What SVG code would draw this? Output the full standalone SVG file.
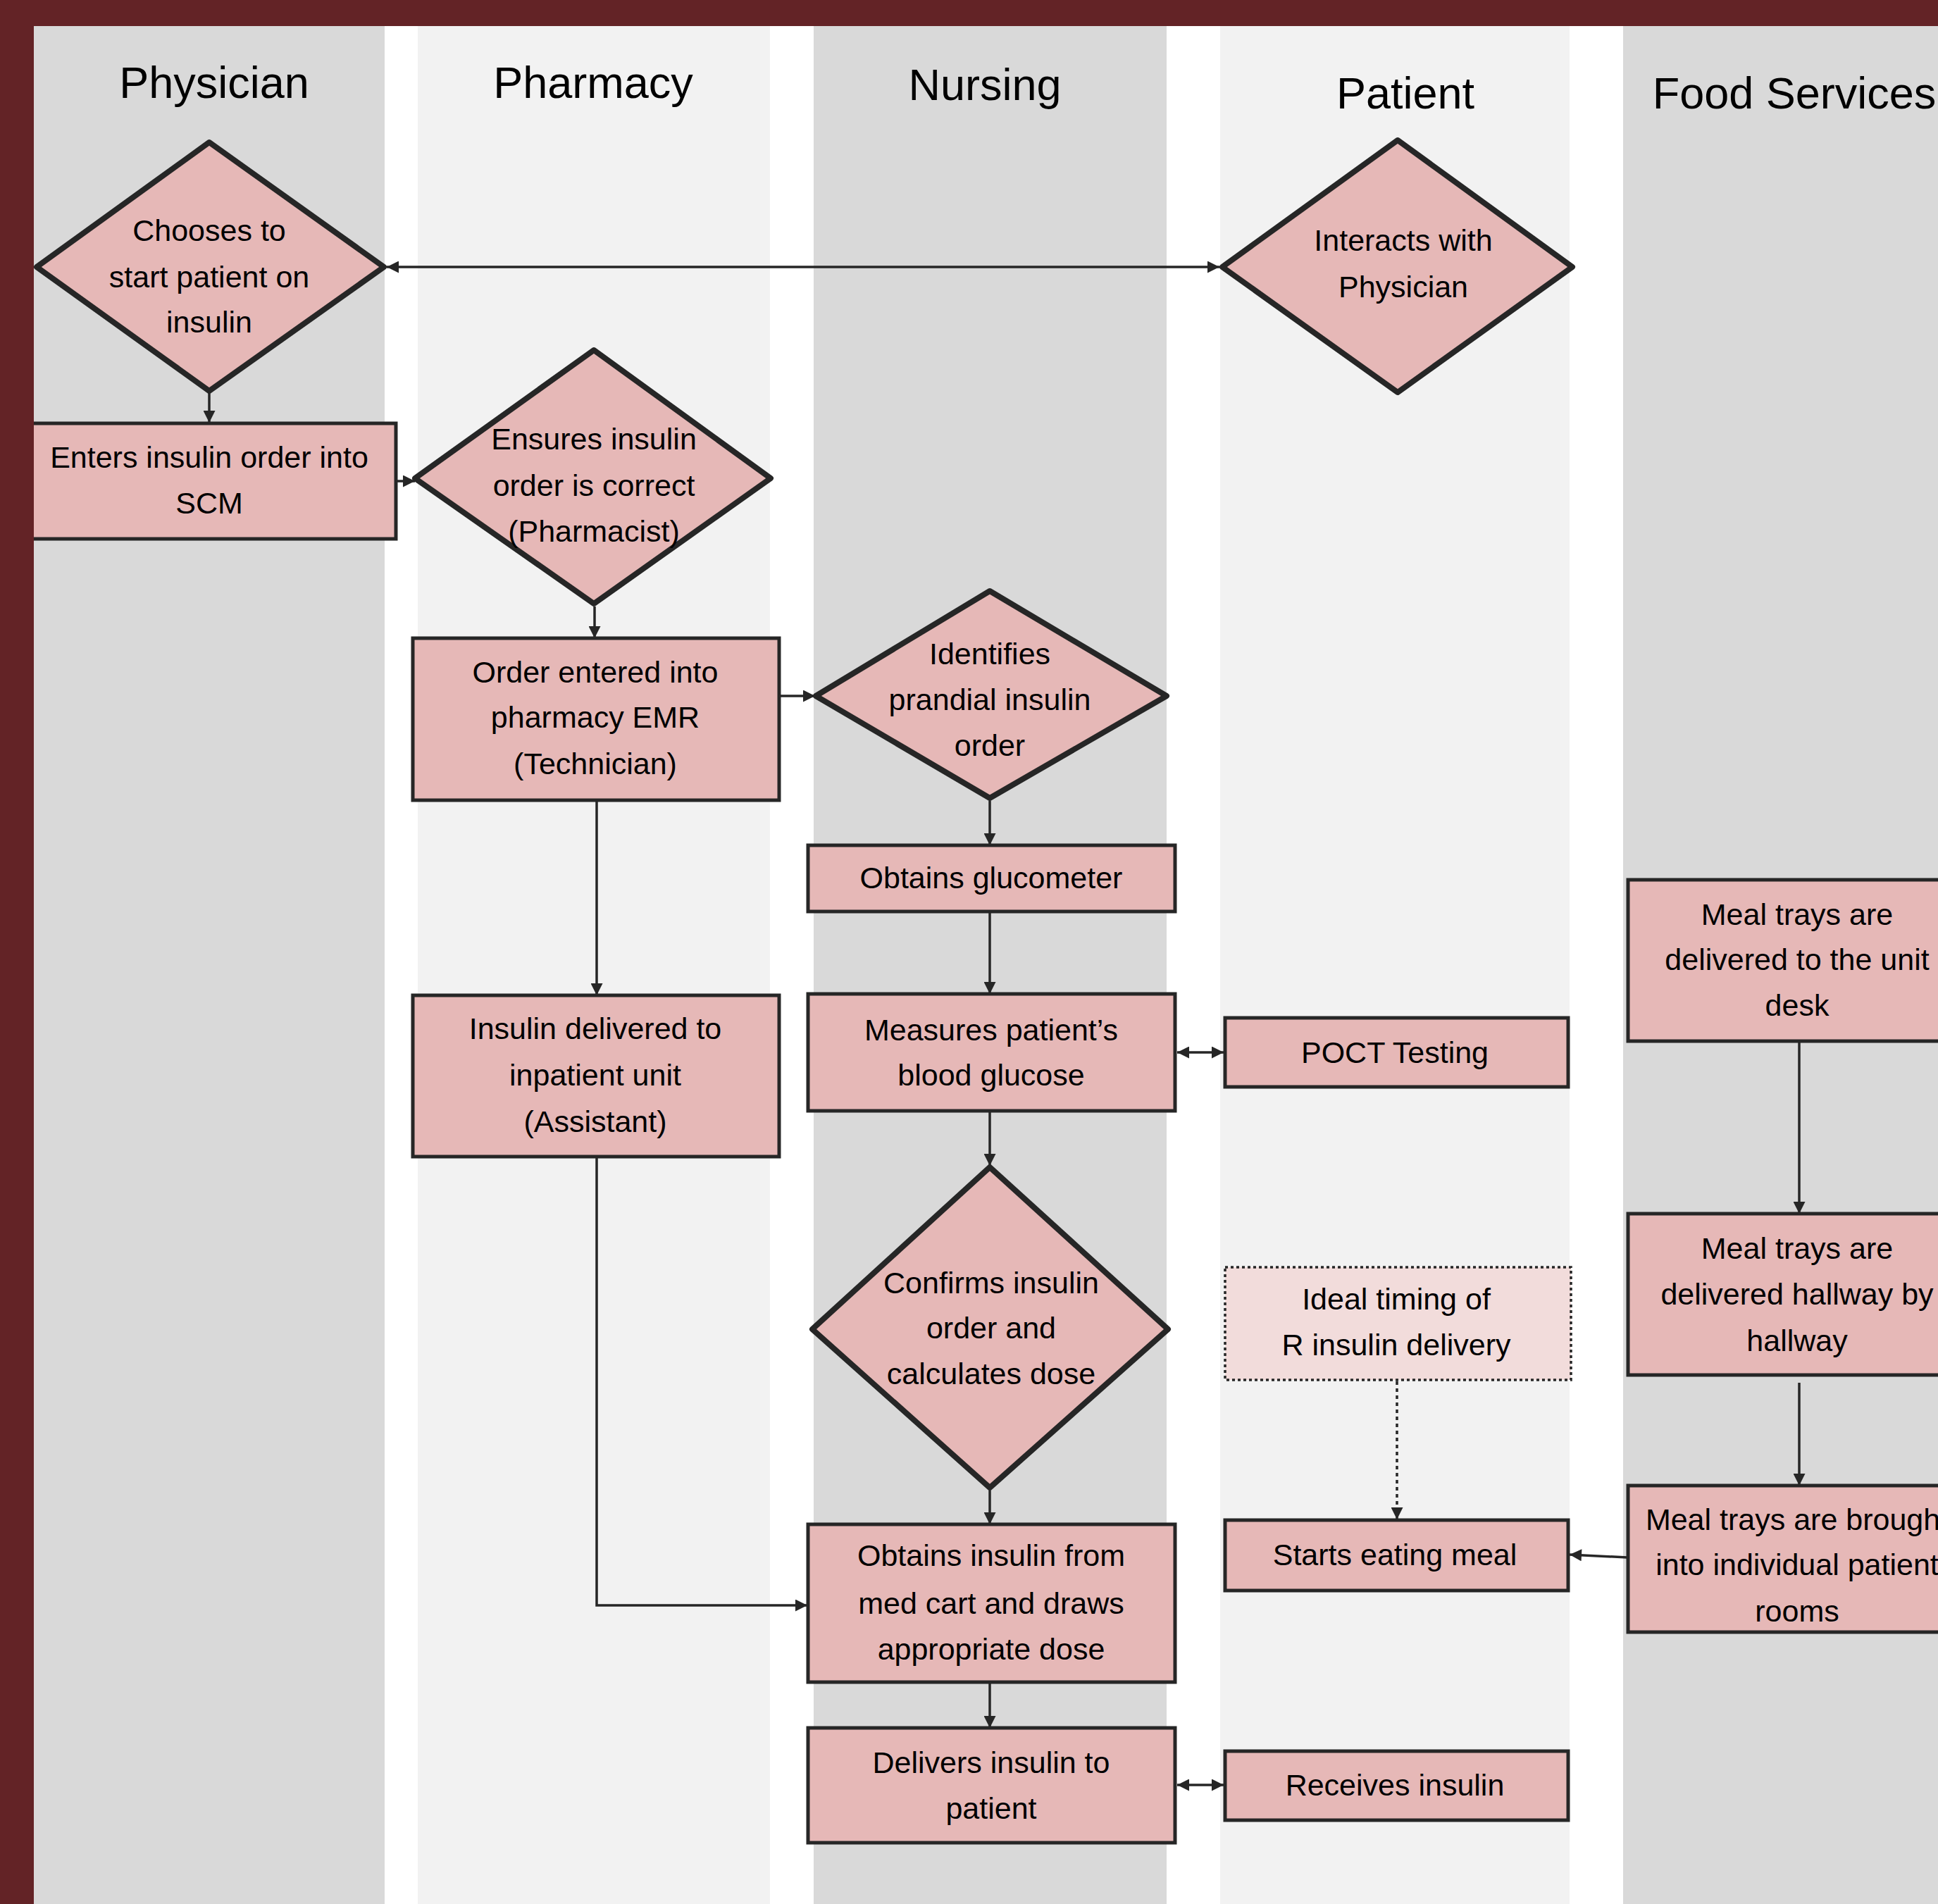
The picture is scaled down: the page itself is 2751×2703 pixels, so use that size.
<svg xmlns="http://www.w3.org/2000/svg" width="2751" height="2703" viewBox="0 0 2751 2703">
<style>
.lane-d{fill:#d9d9d9}
.lane-l{fill:#f2f2f2}
.hdr{font-family:"Liberation Sans",Arial,sans-serif;font-size:63px;fill:#000;text-anchor:middle}
.t{font-family:"Liberation Sans",Arial,sans-serif;font-size:43px;fill:#000;text-anchor:middle}
.box{fill:#e6b8b7;stroke:#262626;stroke-width:5}
.dia{fill:#e6b8b7;stroke:#262626;stroke-width:8;stroke-linejoin:round}
.dot{fill:#f2dcdb;stroke:#262626;stroke-width:3.5;stroke-dasharray:4 4}
.c{fill:none;stroke:#262626;stroke-width:3.5}
</style>
<defs>
<marker id="ah" viewBox="0 0 10 10" refX="10" refY="5" markerWidth="20" markerHeight="17" markerUnits="userSpaceOnUse" orient="auto-start-reverse">
<path d="M0,0 L10,5 L0,10 z" fill="#262626"/>
</marker>
</defs>
<rect x="0" y="0" width="2751" height="2703" fill="#ffffff"/>
<g id="lanes">
<rect class="lane-d" x="48" y="37" width="498" height="2666"/>
<rect class="lane-l" x="593" y="37" width="500" height="2666"/>
<rect class="lane-d" x="1155" y="37" width="501" height="2666"/>
<rect class="lane-l" x="1732" y="37" width="496" height="2666"/>
<rect class="lane-d" x="2304" y="37" width="447" height="2666"/>
</g>
<g id="headers">
<text class="hdr" x="304" y="139">Physician</text>
<text class="hdr" x="842" y="139">Pharmacy</text>
<text class="hdr" x="1398" y="142">Nursing</text>
<text class="hdr" x="1995" y="154">Patient</text>
<text class="hdr" x="2547" y="154">Food Services</text>
</g>
<g id="connectors">
<line class="c" x1="549" y1="379" x2="1731" y2="379" marker-start="url(#ah)" marker-end="url(#ah)"/>
<line class="c" x1="297" y1="558" x2="297" y2="600" marker-end="url(#ah)"/>
<line class="c" x1="562" y1="683" x2="589" y2="683" marker-end="url(#ah)"/>
<line class="c" x1="844" y1="861" x2="844" y2="906" marker-end="url(#ah)"/>
<line class="c" x1="1096" y1="988" x2="1157" y2="988" marker-end="url(#ah)"/>
<line class="c" x1="1405" y1="1137" x2="1405" y2="1200" marker-end="url(#ah)"/>
<line class="c" x1="1405" y1="1294" x2="1405" y2="1411" marker-end="url(#ah)"/>
<line class="c" x1="1671" y1="1494" x2="1737" y2="1494" marker-start="url(#ah)" marker-end="url(#ah)"/>
<line class="c" x1="1405" y1="1577" x2="1405" y2="1655" marker-end="url(#ah)"/>
<line class="c" x1="847" y1="1136" x2="847" y2="1413" marker-end="url(#ah)"/>
<polyline class="c" points="847,1642 847,2279 1146,2279" marker-end="url(#ah)"/>
<line class="c" x1="1405" y1="2116" x2="1405" y2="2164" marker-end="url(#ah)"/>
<line class="c" x1="1405" y1="2388" x2="1405" y2="2453" marker-end="url(#ah)"/>
<line class="c" x1="1671" y1="2534" x2="1737" y2="2534" marker-start="url(#ah)" marker-end="url(#ah)"/>
<line class="c" x1="1983" y1="1961" x2="1983" y2="2157" stroke-dasharray="5 5" marker-end="url(#ah)"/>
<line class="c" x1="2554" y1="1478" x2="2554" y2="1723" marker-end="url(#ah)"/>
<line class="c" x1="2554" y1="1963" x2="2554" y2="2109" marker-end="url(#ah)"/>
<line class="c" x1="2310" y1="2211" x2="2228" y2="2207" stroke-width="5" marker-end="url(#ah)"/>
</g>
<g id="n-chooses">
<polygon class="dia" points="297,202 545,379 297,555 52,379"/>
<text class="t" x="297" y="342">Chooses to</text>
<text class="t" x="297" y="408">start patient on</text>
<text class="t" x="297" y="472">insulin</text>
</g>
<g id="n-interacts">
<polygon class="dia" points="1984,199 2232,379 1984,557 1735,379"/>
<text class="t" x="1992" y="356">Interacts with</text>
<text class="t" x="1992" y="422">Physician</text>
</g>
<g id="n-enters">
<rect class="box" x="44" y="601" width="518" height="164"/>
<text class="t" x="297" y="664">Enters insulin  order into</text>
<text class="t" x="297" y="729">SCM</text>
</g>
<g id="n-ensures">
<polygon class="dia" points="843,497 1094,679 843,857 589,679"/>
<text class="t" x="843" y="638">Ensures insulin</text>
<text class="t" x="843" y="704">order is correct</text>
<text class="t" x="843" y="769">(Pharmacist)</text>
</g>
<g id="n-order-entered">
<rect class="box" x="586" y="906" width="520" height="230"/>
<text class="t" x="845" y="969">Order entered into</text>
<text class="t" x="845" y="1033">pharmacy EMR</text>
<text class="t" x="845" y="1099">(Technician)</text>
</g>
<g id="n-identifies">
<polygon class="dia" points="1405,839 1656,988 1405,1133 1158,988"/>
<text class="t" x="1405" y="943">Identifies</text>
<text class="t" x="1405" y="1008">prandial insulin</text>
<text class="t" x="1405" y="1073">order</text>
</g>
<g id="n-glucometer">
<rect class="box" x="1147" y="1200" width="521" height="94"/>
<text class="t" x="1407" y="1261">Obtains glucometer</text>
</g>
<g id="n-measures">
<rect class="box" x="1147" y="1411" width="521" height="166"/>
<text class="t" x="1407" y="1477">Measures patient’s</text>
<text class="t" x="1407" y="1541">blood glucose</text>
</g>
<g id="n-poct">
<rect class="box" x="1739" y="1445" width="487" height="98"/>
<text class="t" x="1980" y="1509">POCT Testing</text>
</g>
<g id="n-confirms">
<polygon class="dia" points="1405,1657 1658,1887 1405,2112 1153,1887"/>
<text class="t" x="1407" y="1836">Confirms insulin</text>
<text class="t" x="1407" y="1900">order and</text>
<text class="t" x="1407" y="1965">calculates dose</text>
</g>
<g id="n-ideal">
<rect class="dot" x="1739" y="1799" width="491" height="160"/>
<text class="t" x="1982" y="1859">Ideal timing of</text>
<text class="t" x="1982" y="1924">R insulin delivery</text>
</g>
<g id="n-starts">
<rect class="box" x="1739" y="2158" width="487" height="100"/>
<text class="t" x="1980" y="2222">Starts eating meal</text>
</g>
<g id="n-delivered-unit">
<rect class="box" x="586" y="1413" width="520" height="229"/>
<text class="t" x="845" y="1475">Insulin delivered to</text>
<text class="t" x="845" y="1541">inpatient unit</text>
<text class="t" x="845" y="1607">(Assistant)</text>
</g>
<g id="n-obtains-insulin">
<rect class="box" x="1147" y="2164" width="521" height="224"/>
<text class="t" x="1407" y="2223">Obtains insulin from</text>
<text class="t" x="1407" y="2291">med cart and draws</text>
<text class="t" x="1407" y="2356">appropriate dose</text>
</g>
<g id="n-delivers">
<rect class="box" x="1147" y="2453" width="521" height="163"/>
<text class="t" x="1407" y="2517">Delivers insulin to</text>
<text class="t" x="1407" y="2582">patient</text>
</g>
<g id="n-receives">
<rect class="box" x="1739" y="2486" width="487" height="98"/>
<text class="t" x="1980" y="2549">Receives insulin</text>
</g>
<g id="n-meal-desk">
<rect class="box" x="2311" y="1249" width="500" height="229"/>
<text class="t" x="2551" y="1313">Meal trays are</text>
<text class="t" x="2551" y="1377">delivered to the unit</text>
<text class="t" x="2551" y="1442">desk</text>
</g>
<g id="n-meal-hallway">
<rect class="box" x="2311" y="1723" width="500" height="229"/>
<text class="t" x="2551" y="1787">Meal trays are</text>
<text class="t" x="2551" y="1852">delivered hallway by</text>
<text class="t" x="2551" y="1918">hallway</text>
</g>
<g id="n-meal-rooms">
<rect class="box" x="2311" y="2109" width="500" height="208"/>
<text class="t" x="2551" y="2172">Meal trays are brought</text>
<text class="t" x="2551" y="2236">into individual patient</text>
<text class="t" x="2551" y="2302">rooms</text>
</g>
<g id="frame">
<rect x="0" y="0" width="2751" height="37" fill="#632326"/>
<rect x="0" y="0" width="48" height="2703" fill="#632326"/>
</g>
</svg>
